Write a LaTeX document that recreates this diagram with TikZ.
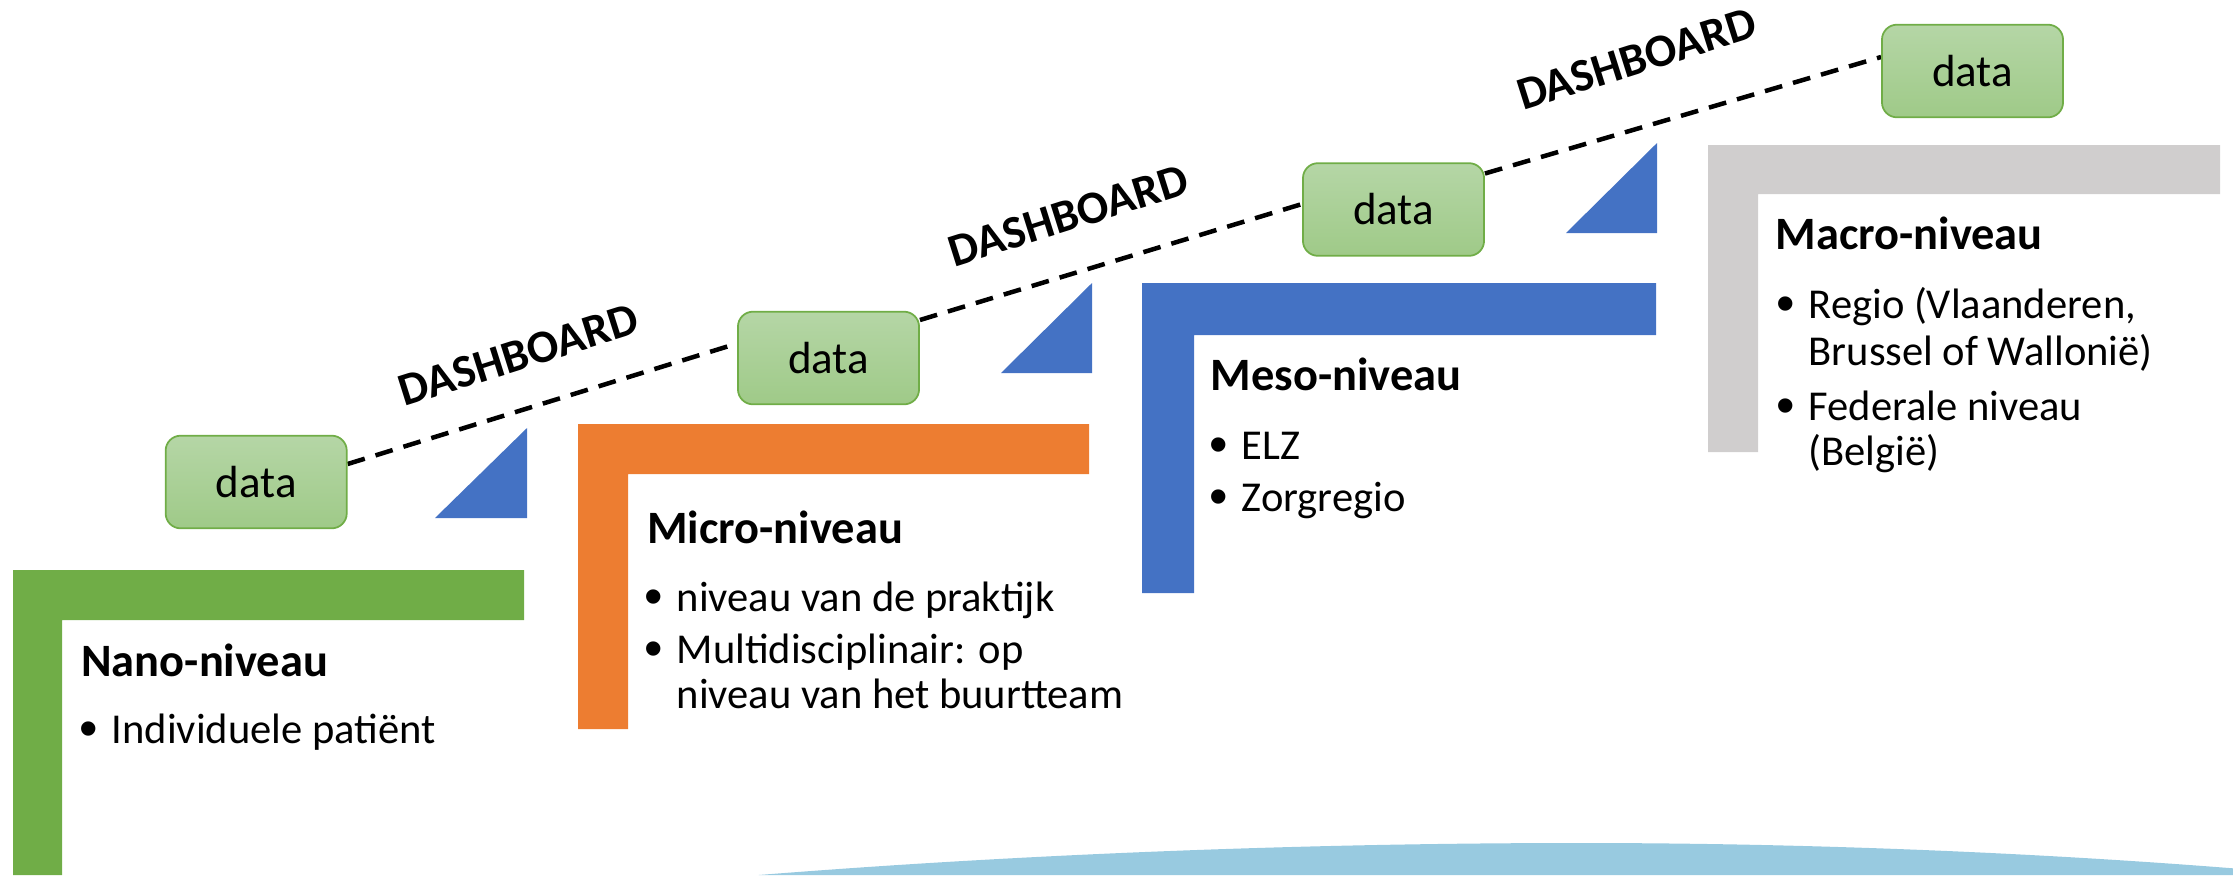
\documentclass[tikz,border=0pt]{standalone}
\usepackage{fontspec}
\setmainfont{Carlito}
\newfontfamily\bulfont{Liberation Sans}
\usetikzlibrary{calc,backgrounds}
\definecolor{cgreen}{HTML}{70AD47}
\definecolor{corange}{HTML}{ED7D31}
\definecolor{cblue}{HTML}{4472C4}
\definecolor{cgrey}{HTML}{D0CECE}
\definecolor{dtop}{HTML}{B5D6A6}
\definecolor{dbot}{HTML}{9FCA88}
\definecolor{carc}{HTML}{98CAE0}
\newcommand{\bul}{\makebox[0.32cm][l]{\raisebox{-0.9pt}{\bulfont\fontsize{15pt}{14pt}\selectfont •}}}
\tikzset{
  databox/.style={draw=cgreen, line width=0.5pt, rounded corners=0.15cm,
    top color=dtop, bottom color=dbot, minimum width=1.81cm, minimum height=0.926cm,
    inner sep=0pt, font=\fontsize{12.8pt}{15pt}\selectfont},
  dashline/.style={line width=1.28pt, dash pattern=on 5.1pt off 3.2pt},
  dashlabel/.style={font=\fontsize{13.2pt}{15pt}\selectfont\bfseries, rotate=17.5, inner sep=0pt},
  lvltitle/.style={anchor=base west, inner sep=0pt, font=\fontsize{13.2pt}{15pt}\selectfont\bfseries},
  lvlitem/.style={anchor=base west, inner sep=0pt, font=\fontsize{12.1pt}{14pt}\selectfont},
  tri/.style={fill=cblue}
}
\begin{document}
\begin{tikzpicture}[x=0.01cm, y=-0.01cm]
\useasboundingbox (0,0) rectangle (2233,875);
% bottom arc
\fill[carc] (758.6,875) parabola bend (1580,843) (2233,868.3) -- (2233,875) -- cycle;
% L shapes
\fill[cgreen] (13,570) -- (524,570) -- (524,620) -- (62,620) -- (62,875) -- (13,875) -- cycle;
\fill[corange] (578,424) -- (1089,424) -- (1089,474) -- (628,474) -- (628,729) -- (578,729) -- cycle;
\fill[cblue] (1142,283) -- (1656,283) -- (1656,335) -- (1194,335) -- (1194,593) -- (1142,593) -- cycle;
\fill[cgrey] (1708,145) -- (2220,145) -- (2220,194) -- (1758,194) -- (1758,452) -- (1708,452) -- cycle;
% triangles
\fill[tri] (435,518) -- (527,518) -- (527,428) -- cycle;
\fill[tri] (1001,373) -- (1092,373) -- (1092,283) -- cycle;
\fill[tri] (1566,233) -- (1657,233) -- (1657,143) -- cycle;
% data boxes
\node[databox] (d1) at (256.2,482) {data};
\node[databox] (d2) at (828.5,358) {data};
\node[databox] (d3) at (1393.5,209.5) {data};
\node[databox] (d4) at (1972.5,71) {data};
% connector end points
\coordinate (c1a) at ($(d1.east)+(0,-18)$);
\coordinate (c1b) at ($(d2.west)+(0,-14.5)$);
\coordinate (c2a) at ($(d2.east)+(0,-38)$);
\coordinate (c2b) at ($(d3.west)+(0,-5.5)$);
\coordinate (c3a) at ($(d3.east)+(0,-36)$);
\coordinate (c3b) at ($(d4.west)+(0,-14)$);
\begin{scope}[on background layer]
\draw[dashline] (c1a) -- (c1b);
\draw[dashline] (c2a) -- (c2b);
\draw[dashline] (c3a) -- (c3b);
\end{scope}
% DASHBOARD labels
\node[dashlabel] (db1) at (518.3,355) {DASHBOARD};
\node[dashlabel] (db2) at (1068.3,215.7) {DASHBOARD};
\node[dashlabel] (db3) at (1636.7,59) {DASHBOARD};
% Nano
\node[lvltitle] (nanoT) at (80.7,676) {Nano-niveau};
\node[lvlitem] (nano1) at (79,743) {\bul Individuele patiënt};
% Micro
\node[lvltitle] (microT) at (646.7,543.3) {Micro-niveau};
\node[lvlitem] (micro1) at (644,611.7) {\bul niveau van de praktijk};
\node[lvlitem] (micro2) at (644,663) {\bul Multidisciplinair: op};
\node[lvlitem] (micro2b) at (644,708) {\hspace*{0.32cm}niveau van het buurtteam};
% Meso
\node[lvltitle] (mesoT) at (1210,390) {Meso-niveau};
\node[lvlitem] (meso1) at (1209,459) {\bul ELZ};
\node[lvlitem] (meso2) at (1209,511) {\bul Zorgregio};
% Macro
\node[lvltitle] (macroT) at (1775,249) {Macro-niveau};
\node[lvlitem] (macro1) at (1776,318) {\bul Regio (Vlaanderen,};
\node[lvlitem] (macro1b) at (1776,365) {\hspace*{0.32cm}Brussel of Wallonië)};
\node[lvlitem] (macro2) at (1776,420) {\bul Federale niveau};
\node[lvlitem] (macro2b) at (1776,465) {\hspace*{0.32cm}(België)};
\end{tikzpicture}
\end{document}
